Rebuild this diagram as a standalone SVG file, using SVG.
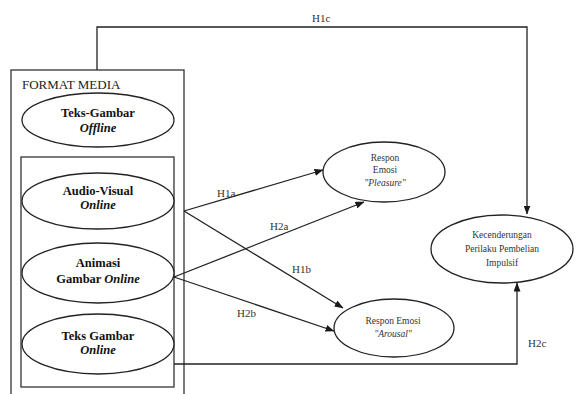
<svg xmlns="http://www.w3.org/2000/svg" width="576" height="394" viewBox="0 0 576 394">
<defs>
<marker id="arr" markerWidth="9" markerHeight="7" refX="8.5" refY="3.5" orient="auto" markerUnits="userSpaceOnUse">
<path d="M0,0 L9,3.5 L0,7 Z" fill="#1a1a1a"/>
</marker>
<style>
.ln{fill:none;stroke:#222;stroke-width:1.3}
.box{fill:none;stroke:#333;stroke-width:1.3}
.el{fill:#fff;stroke:#222;stroke-width:1.3}
.tb{font-family:"Liberation Serif",serif;font-size:12.5px;font-weight:bold;fill:#111;text-anchor:middle}
.ti{font-style:italic}
.tr{font-family:"Liberation Serif",serif;font-size:9.5px;fill:#333;text-anchor:middle}
.lb{font-family:"Liberation Serif",serif;font-size:11px;fill:#333}
.hd{font-family:"Liberation Serif",serif;font-size:13px;fill:#222}
</style>
</defs>
<rect width="576" height="394" fill="#fff"/>
<g id="format-media">
<rect class="box" x="11" y="70" width="173" height="340"/>
<text class="hd" x="22" y="89">FORMAT MEDIA</text>
<rect class="box" x="21" y="157" width="153" height="230"/>
</g>
<g id="teks-gambar-offline">
<ellipse class="el" cx="98" cy="120" rx="76" ry="27"/>
<text class="tb" x="98" y="117">Teks-Gambar</text>
<text class="tb ti" x="98" y="132">Offline</text>
</g>
<g id="audio-visual">
<ellipse class="el" cx="98" cy="201" rx="76" ry="28"/>
<text class="tb" x="98" y="195">Audio-Visual</text>
<text class="tb ti" x="98" y="209">Online</text>
</g>
<g id="animasi">
<ellipse class="el" cx="98" cy="273" rx="76" ry="30"/>
<text class="tb" x="98" y="267">Animasi</text>
<text class="tb" x="98" y="283">Gambar <tspan class="ti">Online</tspan></text>
</g>
<g id="teks-gambar-online">
<ellipse class="el" cx="98" cy="344" rx="76" ry="30"/>
<text class="tb" x="98" y="340">Teks Gambar</text>
<text class="tb ti" x="98" y="354">Online</text>
</g>
<g id="pleasure">
<ellipse class="el" cx="384" cy="172" rx="61" ry="30"/>
<text class="tr" x="385" y="161">Respon</text>
<text class="tr" x="385" y="173">Emosi</text>
<text class="tr" x="385" y="186"><tspan font-style="italic">"Pleasure"</tspan></text>
</g>
<g id="arousal">
<ellipse class="el" cx="394" cy="328" rx="60" ry="29"/>
<text class="tr" x="393" y="324">Respon Emosi</text>
<text class="tr" x="393" y="337" font-style="italic">"Arousal"</text>
</g>
<g id="kecenderungan">
<ellipse class="el" cx="502" cy="249" rx="71" ry="34"/>
<text class="tr" x="502" y="238">Kecenderungan</text>
<text class="tr" x="502" y="252">Perilaku Pembelian</text>
<text class="tr" x="502" y="266">Impulsif</text>
</g>
<g id="connectors">
<path class="ln" d="M97,70 V27 H527 V214" marker-end="url(#arr)"/>
<line class="ln" x1="184" y1="211" x2="323" y2="170" marker-end="url(#arr)"/>
<line class="ln" x1="184" y1="211" x2="343" y2="308" marker-end="url(#arr)"/>
<line class="ln" x1="174" y1="277" x2="364" y2="202" marker-end="url(#arr)"/>
<line class="ln" x1="174" y1="277" x2="334" y2="331" marker-end="url(#arr)"/>
<path class="ln" d="M174,364 H517 V283" marker-end="url(#arr)"/>
<text class="lb" x="312" y="22">H1c</text>
<text class="lb" x="217" y="197">H1a</text>
<text class="lb" x="270" y="230">H2a</text>
<text class="lb" x="292" y="273">H1b</text>
<text class="lb" x="237" y="317">H2b</text>
<text class="lb" x="528" y="347">H2c</text>
</g>
</svg>
